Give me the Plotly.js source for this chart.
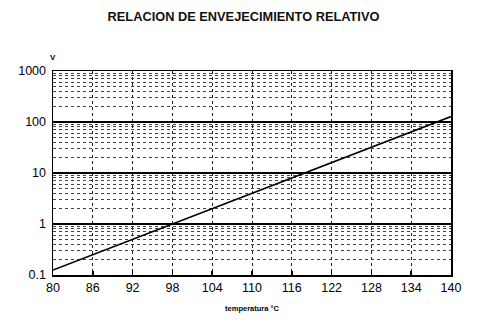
<!DOCTYPE html>
<html><head><meta charset="utf-8">
<script src="https://cdn.plot.ly/plotly-3.0.1.min.js"></script>
<style>body{margin:0;background:#fff}#c{width:487px;height:335px}</style>
</head><body><div id="c"></div>
<script>
const temperatura = [80, 86, 92, 98, 104, 110, 116, 122, 128, 134, 140];
const envejecimiento = [0.125, 0.25, 0.5, 1, 2, 4, 8, 16, 32, 64, 128];
const xTicks = [80, 86, 92, 98, 104, 110, 116, 122, 128, 134, 140];
const yTickVals = [0.1, 1, 10, 100, 1000];
const yTickText = ["0.1", "1", "10", "100", "1000"];

const font = "Liberation Sans, Arial, sans-serif";
Plotly.newPlot("c", [{
  x: temperatura, y: envejecimiento, type: "scatter", mode: "lines",
  line: {color: "#000", width: 1.6}, hoverinfo: "skip"
}], {
  width: 487, height: 335,
  margin: {l: 53, r: 36, t: 71, b: 60},
  paper_bgcolor: "#fff", plot_bgcolor: "#fff",
  showlegend: false,
  font: {family: font, color: "#000"},
  title: {text: "<b>RELACION DE ENVEJECIMIENTO RELATIVO</b>", font: {size: 12.8, family: font, color: "#111"}, x: 0.5, xanchor: "center", y: 0.95, yanchor: "middle"},
  xaxis: {
    range: [80, 140], tickvals: xTicks, ticktext: xTicks.map(String),
    showgrid: true, gridcolor: "#222", griddash: "dot", gridwidth: 1,
    ticks: "inside", ticklen: 4, tickcolor: "#000", tickwidth: 1.5,
    showline: true, linecolor: "#000", linewidth: 1.5, mirror: true,
    tickfont: {size: 12.5, family: font, color: "#000"},
    zeroline: false,
    title: {text: "<b>temperatura °C</b>", font: {size: 7.5, family: font, color: "#000"}, standoff: 12}
  },
  yaxis: {
    type: "log", range: [-1, 3], tickvals: yTickVals, ticktext: yTickText,
    showgrid: true, gridcolor: "#000", gridwidth: 1.5,
    ticks: "", showline: true, linecolor: "#000", linewidth: 1.5, mirror: true,
    tickfont: {size: 12.5, family: font, color: "#000"},
    ticklabelstandoff: 3,
    zeroline: false,
    minor: {dtick: "D1", showgrid: true, gridcolor: "#444", griddash: "dot", gridwidth: 1, ticks: ""}
  },
  annotations: [{
    text: "<b>V</b>", xref: "paper", yref: "paper", x: 0, y: 1, xanchor: "center", yanchor: "bottom",
    yshift: 7, showarrow: false, font: {size: 8, family: font, color: "#000"}
  }]
}, {staticPlot: true});
</script></body></html>
